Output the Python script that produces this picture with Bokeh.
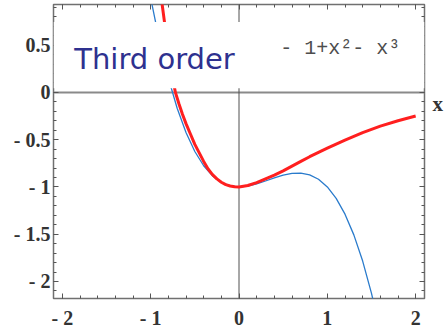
from bokeh.plotting import figure
from bokeh.models import (Range1d, LinearAxis, SingleIntervalTicker,
                          Span, BoxAnnotation, Label)
from bokeh.embed import file_html
from bokeh.resources import INLINE

# ---- data ----
x_ticks = [-2, -1, 0, 1, 2]
x_tick_labels = ["- 2", "- 1", "0", "1", "2"]
y_ticks = [-2, -1.5, -1, -0.5, 0, 0.5]
y_tick_labels = ["- 2", "- 1.5", "- 1", "- 0.5", "0", "0.5"]

# blue curve: third-order approximation
blue_x = [-1.0, -0.9, -0.8, -0.7, -0.6, -0.5, -0.4, -0.3, -0.2, -0.1, 0.0,
          0.1, 0.2, 0.3, 0.4, 0.5, 0.6, 0.7, 0.8, 0.9, 1.0, 1.1, 1.2, 1.3,
          1.4, 1.5, 1.6]
blue_y = [1.0, 0.539, 0.152, -0.167, -0.424, -0.625, -0.776, -0.883, -0.952,
          -0.989, -1.0, -0.991, -0.968, -0.937, -0.904, -0.875, -0.856,
          -0.853, -0.872, -0.919, -1.0, -1.121, -1.288, -1.507, -1.784,
          -2.125, -2.536]

# red curve: the function
red_x = [-0.90, -0.87, -0.84, -0.80, -0.76, -0.72, -0.68, -0.64, -0.60,
         -0.55, -0.50, -0.45, -0.40, -0.35, -0.30, -0.25, -0.20, -0.15,
         -0.10, -0.05, 0.00, 0.10, 0.20, 0.30, 0.40, 0.50, 0.60, 0.70,
         0.80, 0.90, 1.00, 1.20, 1.40, 1.60, 1.80, 2.00]
red_y = [1.17, 0.93, 0.72, 0.45, 0.20, 0.0, -0.12, -0.23, -0.33,
         -0.44, -0.55, -0.64, -0.73, -0.81, -0.87, -0.915, -0.95, -0.975,
         -0.99, -0.998, -1.0, -0.985, -0.955, -0.915, -0.875, -0.83, -0.78,
         -0.73, -0.68, -0.635, -0.59, -0.505, -0.425, -0.356, -0.30, -0.25]

title_text = "Third order"
formula_text = "- 1+x\u00b2- x\u00b3"
axis_name = "x"

# ---- figure ----
p = figure(width=444, height=331,
           x_range=Range1d(-2.1, 2.1), y_range=Range1d(-2.18, 0.93),
           output_backend="svg", toolbar_location=None,
           min_border_left=53, min_border_right=20,
           min_border_top=4, min_border_bottom=32)
p.grid.visible = False
p.outline_line_color = "#707070"
p.outline_line_width = 1.5
p.background_fill_color = "white"
p.border_fill_color = "white"

bottom_ax = p.below[0]
left_ax = p.left[0]
top_ax = LinearAxis()
right_ax = LinearAxis()
p.add_layout(top_ax, "above")
p.add_layout(right_ax, "right")

x_over = dict(zip(x_ticks, x_tick_labels))
y_over = dict(zip(y_ticks, y_tick_labels))

for ax, horiz, labelled in [(bottom_ax, True, True), (left_ax, False, True),
                            (top_ax, True, False), (right_ax, False, False)]:
    ax.ticker = SingleIntervalTicker(interval=1 if horiz else 0.5, num_minor_ticks=5)
    ax.axis_line_color = None
    ax.major_tick_in = 5
    ax.major_tick_out = 0
    ax.minor_tick_in = 3
    ax.minor_tick_out = 0
    ax.major_tick_line_color = "#555555"
    ax.minor_tick_line_color = "#555555"
    ax.major_tick_line_width = 1
    ax.minor_tick_line_width = 1
    if labelled:
        ax.major_label_overrides = x_over if horiz else y_over
        ax.major_label_text_font = "Liberation Serif"
        ax.major_label_text_font_style = "bold"
        ax.major_label_text_font_size = "20px"
        ax.major_label_text_color = "#333333"
    else:
        ax.major_label_text_font_size = "0px"
        ax.major_label_text_color = None
        ax.major_label_standoff = 0
        ax.axis_label_standoff = 0

bottom_ax.major_label_standoff = 8
left_ax.major_label_standoff = 3

# zero lines
p.add_layout(Span(location=0, dimension="width", line_color="#8a8a8a",
                  line_width=2, level="underlay"))
p.add_layout(Span(location=0, dimension="height", line_color="#505050",
                  line_width=1, level="underlay"))

p.line(blue_x, blue_y, line_color="#2a7bcc", line_width=1.3)
p.line(red_x, red_y, line_color="#ff1f1f", line_width=3, line_join="round")

# white background band behind the texts
p.add_layout(BoxAnnotation(bottom=0.045, top=0.745, fill_color="white",
                           fill_alpha=1.0, line_color=None))

p.add_layout(Label(x=-1.865, y=0.352, text=title_text, text_font="DejaVu Sans",
                   text_font_size="29px", text_color="#2e318f",
                   text_baseline="alphabetic", text_align="left"))
p.add_layout(Label(x=0.468, y=0.465, text=formula_text, text_font="Liberation Mono",
                   text_font_size="20px", text_color="#4d4d4d",
                   text_baseline="alphabetic", text_align="left"))

# axis name "x" to the right of the frame, beside the zero line
p.add_layout(Label(x=432, y=103, x_units="canvas", y_units="canvas",
                   text=axis_name, text_font="Liberation Serif",
                   text_font_style="bold", text_font_size="21px",
                   text_color="#333333", text_baseline="alphabetic",
                   text_align="left"), "right")

open("out.html", "w").write(file_html(p, INLINE))
